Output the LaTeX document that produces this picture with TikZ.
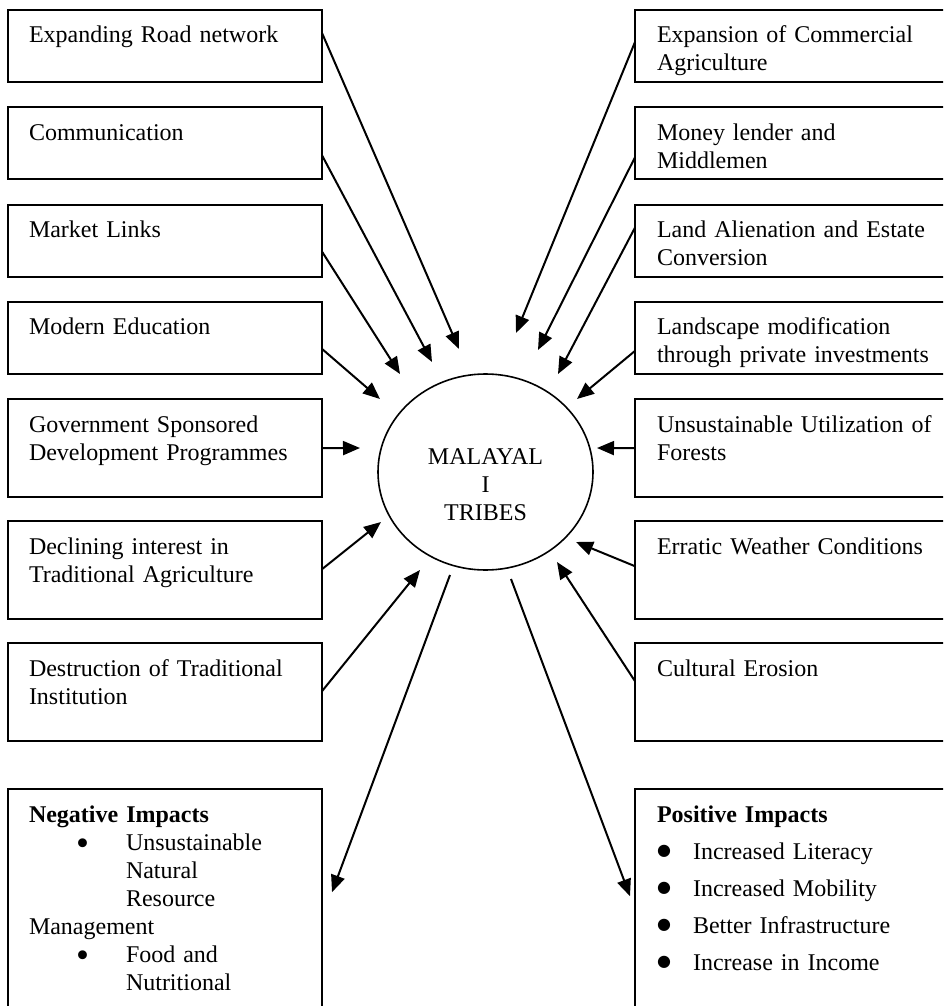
\documentclass[tikz,border=0pt]{standalone}
\usepackage{fontspec}
\setmainfont{Liberation Serif}
\newfontfamily\symbolfont{DejaVu Sans}
\usepackage{tikz}
\usetikzlibrary{arrows.meta}
\usetikzlibrary{calc}
\usetikzlibrary{positioning}
\usetikzlibrary{shapes.geometric}
\newcommand{\boxfont}{\fontsize{24}{28}\selectfont}
\newcommand{\widthleft}{272pt}
\newcommand{\widthright}{300pt}
\newcommand{\negbullet}{\hspace*{47pt}\makebox[50pt][l]{\raisebox{-5pt}{\fontsize{37}{28}\selectfont\textbullet}}}
\newcommand{\negindent}{\hspace*{97pt}}
\newcommand{\posbullet}{\makebox[36pt][l]{\raisebox{4pt}{\symbolfont\fontsize{16}{28}\selectfont ●}}}
\tikzset{
    common/.style={draw, rectangle, line width=2pt, outer sep=0pt, inner ysep=0pt, align=left, font=\boxfont, text height=33pt, text depth=39pt},
    leftbox/.style={common, anchor=north west, inner xsep=21pt, text width=\widthleft},
    rightbox/.style={common, anchor=north west, inner xsep=22pt, text width=\widthright},
    tall/.style={text depth=65pt},
    impact/.style={text depth=207pt},
    hub/.style={draw, ellipse, line width=1.6pt, minimum width=215pt, minimum height=196pt},
    hubtext/.style={font=\boxfont, align=center, yshift=-13pt},
    arrow/.style={-{Triangle[length=17pt, width=14pt]}, line width=2pt},
}

\begin{document}
\begin{tikzpicture}[x=1pt, y=-1pt, node distance=25.3pt]
            \clip (0,0) rectangle (943,1006);

            % left column
            \node[leftbox] (road) at (8,10) {Expanding Road network};
            \node[leftbox, below=of road] (communication) {Communication};
            \node[leftbox, below=of communication] (market) {Market Links};
            \node[leftbox, below=of market] (education) {Modern Education};
            \node[leftbox, tall, below=of education] (government) {Government Sponsored\\Development Programmes};
            \node[leftbox, tall, below=24pt of government] (declining) {Declining interest in\\Traditional Agriculture};
            \node[leftbox, tall, below=24pt of declining] (destruction) {Destruction of Traditional\\Institution};
            \node[leftbox, impact, below=48pt of destruction] (negative) {\textbf{Negative Impacts}\\
                \negbullet Unsustainable\\
                \negindent Natural\\
                \negindent Resource\\
                Management\\
                \negbullet Food and\\
                \negindent Nutritional};

            % right column
            \node[rightbox] (commercial) at (635,10) {Expansion of Commercial\\Agriculture};
            \node[rightbox, below=of commercial] (moneylender) {Money lender and\\Middlemen};
            \node[rightbox, below=of moneylender] (alienation) {Land Alienation and Estate\\Conversion};
            \node[rightbox, below=of alienation] (landscape) {Landscape modification\\through private investments};
            \node[rightbox, tall, below=of landscape] (forests) {Unsustainable Utilization of\\Forests};
            \node[rightbox, tall, below=24pt of forests] (weather) {Erratic Weather Conditions};
            \node[rightbox, tall, below=24pt of weather] (erosion) {Cultural Erosion};
            \node[rightbox, impact, below=48pt of erosion] (positive) {\textbf{Positive Impacts}\\[9pt]
                \posbullet Increased Literacy\\[9pt]
                \posbullet Increased Mobility\\[9pt]
                \posbullet Better Infrastructure\\[9pt]
                \posbullet Increase in Income};

            \node[hub, label={[hubtext]center:{MALAYAL\\I\\TRIBES}}] (tribes) at (485.5,472) {};

            \path (tribes.center)
                +(-26.5,-123) coordinate (road-tip)
                +(-53.5,-110) coordinate (communication-tip)
                +(-85.5,-98) coordinate (market-tip)
                +(-105.5,-73) coordinate (education-tip)
                +(-125.5,-24) coordinate (government-tip)
                +(-104.5,50) coordinate (declining-tip)
                +(-65.5,98) coordinate (destruction-tip)
                +(30.5,-139) coordinate (commercial-tip)
                +(52.5,-122) coordinate (moneylender-tip)
                +(72.5,-98) coordinate (alienation-tip)
                +(91.5,-73) coordinate (landscape-tip)
                +(111.5,-24) coordinate (forests-tip)
                +(90.5,70) coordinate (weather-tip)
                +(71.5,90) coordinate (erosion-tip)
                +(-35.5,103) coordinate (negative-start)
                +(25.5,107) coordinate (positive-start);

            \draw[arrow] ($(road.north east)+(0,23)$) -- (road-tip);
            \draw[arrow] ($(communication.north east)+(0,48)$) -- (communication-tip);
            \draw[arrow] ($(market.north east)+(0,47)$) -- (market-tip);
            \draw[arrow] ($(education.north east)+(0,47)$) -- (education-tip);
            \draw[arrow] (government.east) -- (government-tip);
            \draw[arrow] ($(declining.north east)+(0,48)$) -- (declining-tip);
            \draw[arrow] ($(destruction.north east)+(0,48)$) -- (destruction-tip);

            \draw[arrow] ($(commercial.north west)+(0,32)$) -- (commercial-tip);
            \draw[arrow] ($(moneylender.north west)+(0,50)$) -- (moneylender-tip);
            \draw[arrow] ($(alienation.north west)+(0,23)$) -- (alienation-tip);
            \draw[arrow] ($(landscape.north west)+(0,49)$) -- (landscape-tip);
            \draw[arrow] (forests.west) -- (forests-tip);
            \draw[arrow] ($(weather.north west)+(0,45)$) -- (weather-tip);
            \draw[arrow] ($(erosion.north west)+(0,38)$) -- (erosion-tip);

            \draw[arrow] (negative-start) -- ($(negative.north east)+(10,103)$);
            \draw[arrow] (positive-start) -- ($(positive.north west)+(-5,107)$);
          \end{tikzpicture}
\end{document}
